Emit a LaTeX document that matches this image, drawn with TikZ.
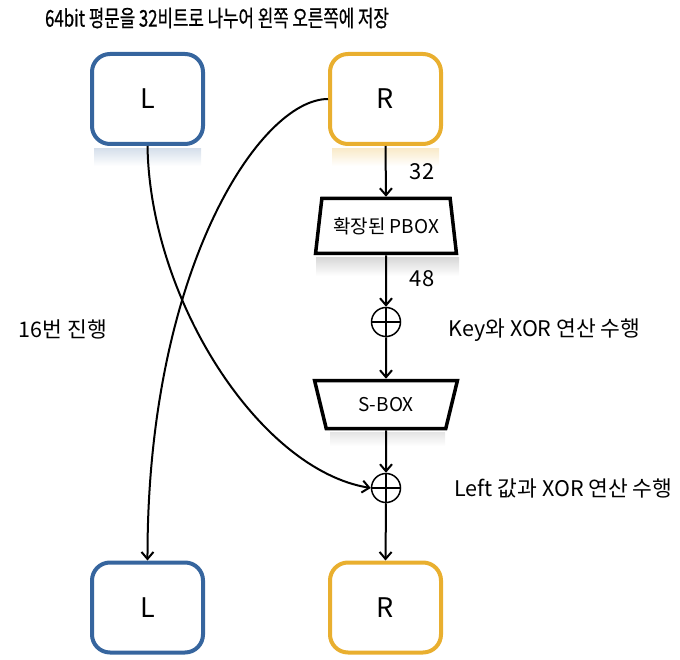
\documentclass[tikz,border=0pt]{standalone}
\usepackage{fontspec}
\setmainfont{Noto Sans CJK KR}
\newfontfamily\narrowfont[FakeStretch=0.73, FakeBold=0.6]{Noto Sans CJK KR}
\usetikzlibrary{arrows.meta, shapes.geometric}
\definecolor{lblue}{HTML}{36659E}
\definecolor{rgold}{HTML}{E9AF2F}
\definecolor{ghost}{HTML}{D9D9D9}

\tikzset{
  half/.style={draw=#1, line width=4pt, rounded corners=18pt, fill=white,
    minimum width=111pt, minimum height=90pt, font=\fontsize{27}{27}\selectfont},
  stagebox/.style={draw, trapezium, trapezium stretches=true, line width=3.5pt,
    fill=white, font=\fontsize{19}{19}\selectfont},
  xorop/.style={circle, draw, line width=1.5pt, minimum size=29pt, inner sep=0pt},
  flow/.style={-{Straight Barb[length=7pt,width=12pt]}, line width=2pt},
  note/.style={font=\fontsize{21.5}{21.5}\selectfont},
  mirror/.style={top color=#1, bottom color=white, draw=none}
}

\begin{document}
\begin{tikzpicture}[x=1pt, y=-1pt]
\useasboundingbox (0,0) rectangle (680,660);

% title
\node[font=\narrowfont\fontsize{23}{23}\selectfont] (title) at (217,18) {64bit 평문을 32비트로 나누어 왼쪽 오른쪽에 저장};

% faint reflections
\shade[mirror=lblue!20] (94,149) rectangle (201,166);
\shade[mirror=rgold!25] (332,149) rectangle (439,166);
\shade[mirror=ghost] (316,258) rectangle (459,276);
\shade[mirror=ghost!70] (330,432) rectangle (445,446);

% halves
\node[half=lblue] (Ltop) at (147.5,99) {L};
\node[half=rgold] (Rtop) at (385.5,99) {R};
\node[half=lblue] (Lbot) at (147.5,607.5) {L};
\node[half=rgold] (Rbot) at (385.5,607.5) {R};

% round function
\node[stagebox, trapezium angle=77, minimum width=141pt, minimum height=55pt] (pbox) at (386,226) {확장된 PBOX};
\node[xorop] (xorK) at (386,322) {};
\node[stagebox, trapezium angle=74, shape border rotate=180, minimum width=143pt, minimum height=48pt] (sbox) at (386,404.5) {S-BOX};
\node[xorop] (xorL) at (386,488) {};
\draw[line width=1.5pt] (xorK.north) -- (xorK.south) (xorK.west) -- (xorK.east);
\draw[line width=1.5pt] (xorL.north) -- (xorL.south) (xorL.west) -- (xorL.east);

\draw[flow] (Rtop.south) -- (pbox.north);
\draw[flow] (pbox.south) -- (xorK.north);
\draw[flow] (xorK.south) -- (sbox.north);
\draw[flow] (sbox.south) -- (xorL.north);
\draw[flow] (xorL.south) -- (Rbot.north);

% swap
\draw[flow] (Ltop.south) .. controls (150,300) and (260,470) .. (xorL.west);
\draw[flow] (Rtop.west) .. controls (260,99) and (147,270) .. (Lbot.north);

% labels
\node[note, font=\fontsize{22}{22}\selectfont] (w32) at (422,172) {32};
\node[note, font=\fontsize{22}{22}\selectfont] (w48) at (422,279) {48};
\node[note, anchor=west] (keytxt) at (445,330) {Key와 XOR 연산 수행};
\node[note, anchor=west] (lefttxt) at (451,488) {Left 값과 XOR 연산 수행};
\node[note] (rounds) at (63,329) {16번 진행};
\end{tikzpicture}
\end{document}
